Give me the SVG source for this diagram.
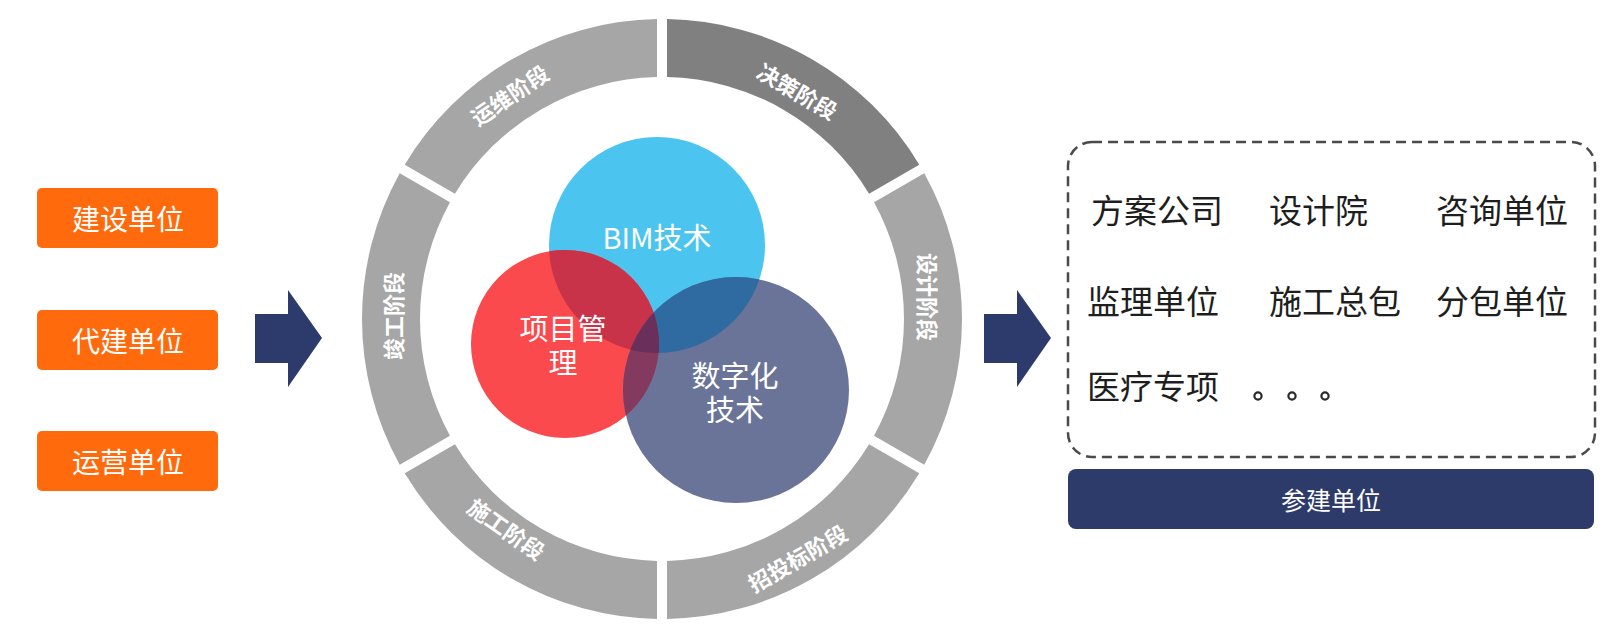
<svg xmlns="http://www.w3.org/2000/svg" width="1620" height="630" viewBox="0 0 1620 630">
  <style>
    text { font-family: "Noto Sans CJK SC", "Noto Sans", sans-serif; }
    .box { fill: #ff6a0c; }
    .boxtxt { fill: #ffffff; font-size: 28px; text-anchor: middle; dominant-baseline: central; }
    .seg { fill: #a6a6a6; }
    .segdark { fill: #808080; }
    .ringtxt { fill: #ffffff; font-size: 22px; font-weight: bold; text-anchor: middle; dominant-baseline: central; }
    .ctxt { fill: #ffffff; font-size: 29px; text-anchor: middle; }
    .ctxt2 { font-family: "Liberation Sans", "Noto Sans CJK SC", sans-serif; fill: #ffffff; font-size: 29px; text-anchor: middle; }
    .rtxt { fill: #1e1e1e; font-size: 33px; dominant-baseline: central; }
    .dot { fill: none; stroke: #2a2a2a; stroke-width: 2.2; }
    .arrow { fill: #2c3b6c; }
  </style>
  <defs>
    <path id="segShape" d="M667,19.04 A300,300 0 0 1 919.27,164.69 L869.03,193.70 A242,242 0 0 0 667,77.05 Z"/>
    <clipPath id="cBlue"><circle cx="657" cy="245" r="108"/></clipPath>
    <clipPath id="cRed"><circle cx="565" cy="344" r="94"/></clipPath>
  </defs>
  <rect width="1620" height="630" fill="#ffffff"/>

  <!-- left boxes -->
  <g id="node-jianshe">
    <rect class="box" x="37" y="188" width="181" height="60" rx="5"/>
    <text class="boxtxt" x="128" y="218">建设单位</text>
  </g>
  <g id="node-daijian">
    <rect class="box" x="37" y="310" width="181" height="60" rx="5"/>
    <text class="boxtxt" x="128" y="340">代建单位</text>
  </g>
  <g id="node-yunying">
    <rect class="box" x="37" y="431" width="181" height="60" rx="5"/>
    <text class="boxtxt" x="128" y="461">运营单位</text>
  </g>

  <!-- ring -->
  <g id="node-ring">
    <use href="#segShape" class="segdark"/>
    <use href="#segShape" class="seg" transform="rotate(60 662 319)"/>
    <use href="#segShape" class="seg" transform="rotate(120 662 319)"/>
    <use href="#segShape" class="seg" transform="rotate(180 662 319)"/>
    <use href="#segShape" class="seg" transform="rotate(240 662 319)"/>
    <use href="#segShape" class="seg" transform="rotate(300 662 319)"/>
    <text class="ringtxt" transform="translate(798 90) rotate(30)">决策阶段</text>
    <text class="ringtxt" transform="translate(929 297) rotate(90)">设计阶段</text>
    <text class="ringtxt" transform="translate(797 557) rotate(-30)">招投标阶段</text>
    <text class="ringtxt" transform="translate(507 528) rotate(35)">施工阶段</text>
    <text class="ringtxt" transform="translate(392 316) rotate(-90)">竣工阶段</text>
    <text class="ringtxt" transform="translate(509 94) rotate(-34)">运维阶段</text>
  </g>

  <!-- circles -->
  <g id="node-circles">
    <circle cx="657" cy="245" r="108" fill="#4bc4f0"/>
    <circle cx="565" cy="344" r="94" fill="#fa4a4d"/>
    <circle cx="736" cy="390" r="113" fill="#6a7499"/>
    <circle cx="565" cy="344" r="94" fill="#c8334a" clip-path="url(#cBlue)"/>
    <circle cx="736" cy="390" r="113" fill="#2f6aa0" clip-path="url(#cBlue)"/>
    <circle cx="736" cy="390" r="113" fill="#84395e" clip-path="url(#cRed)"/>
    <g clip-path="url(#cBlue)">
      <circle cx="736" cy="390" r="113" fill="#6a2f5a" clip-path="url(#cRed)"/>
    </g>
  </g>
  <g id="node-bim">
    <text class="ctxt" x="657" y="249">BIM技术</text>
  </g>
  <g id="node-xmgl">
    <text class="ctxt2" x="563" y="340">项目管</text>
    <text class="ctxt2" x="563" y="374">理</text>
  </g>
  <g id="node-szh">
    <text class="ctxt2" x="735" y="387">数字化</text>
    <text class="ctxt2" x="735" y="421">技术</text>
  </g>

  <!-- right dashed box -->
  <g id="node-canjian">
    <rect x="1068" y="142" width="527" height="315" rx="24" fill="none" stroke="#4a4a4a" stroke-width="2.5" stroke-dasharray="10 6"/>
    <text class="rtxt" x="1091" y="209">方案公司</text>
    <text class="rtxt" x="1269" y="209">设计院</text>
    <text class="rtxt" x="1436" y="209">咨询单位</text>
    <text class="rtxt" x="1087" y="300">监理单位</text>
    <text class="rtxt" x="1269" y="300">施工总包</text>
    <text class="rtxt" x="1436" y="300">分包单位</text>
    <text class="rtxt" x="1087" y="385">医疗专项</text>
    <circle class="dot" cx="1258" cy="396" r="3.6"/>
    <circle class="dot" cx="1292" cy="396" r="3.6"/>
    <circle class="dot" cx="1325" cy="396" r="3.6"/>
  </g>
  <g id="node-bar">
    <rect x="1068" y="469" width="526" height="60" rx="8" fill="#2d3b6a"/>
    <text x="1331" y="499" fill="#ffffff" font-size="25" text-anchor="middle" dominant-baseline="central">参建单位</text>
  </g>

  <!-- connectors -->
  <g id="connectors">
    <path class="arrow" d="M255,314 H288 V290 L322,338 L288,387 V363 H255 Z"/>
    <path class="arrow" d="M984,314 H1017 V290 L1051,338 L1017,387 V363 H984 Z"/>
  </g>
</svg>
